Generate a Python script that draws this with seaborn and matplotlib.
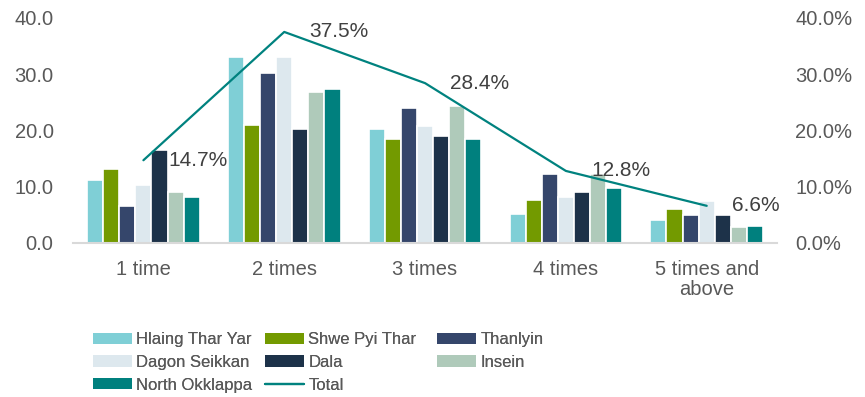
import numpy as np
import pandas as pd
import matplotlib
matplotlib.use("Agg")
import matplotlib.pyplot as plt
import seaborn as sns
from matplotlib.patches import Patch
from matplotlib.lines import Line2D

categories = ["1 time", "2 times", "3 times", "4 times", "5 times and\nabove"]
townships = ["Hlaing Thar Yar", "Shwe Pyi Thar", "Thanlyin", "Dagon Seikkan",
             "Dala", "Insein", "North Okklappa"]

hlaing_thar_yar = [11.2, 33.1, 20.2, 5.2, 4.0]
shwe_pyi_thar = [13.2, 21.0, 18.5, 7.7, 6.1]
thanlyin = [6.5, 30.2, 24.0, 12.3, 4.9]
dagon_seikkan = [10.3, 33.1, 20.7, 8.2, 7.4]
dala = [16.5, 20.2, 19.0, 9.0, 4.9]
insein = [9.0, 26.9, 24.4, 12.3, 2.8]
north_okklappa = [8.2, 27.3, 18.5, 9.8, 3.1]
total = [14.7, 37.5, 28.4, 12.8, 6.6]

colors = ["#7fcfd6", "#739a00", "#35466b", "#dde8ee", "#1d3249", "#afcaba", "#00807e"]
line_color = "#00827f"
text_color = "#595959"

series = [hlaing_thar_yar, shwe_pyi_thar, thanlyin, dagon_seikkan, dala, insein, north_okklappa]
rows = []
for name, vals in zip(townships, series):
    for cat, v in zip(categories, vals):
        rows.append({"category": cat, "township": name, "value": v})
df = pd.DataFrame(rows)

sns.set_style("white")
plt.rcParams["font.family"] = ["Liberation Sans", "DejaVu Sans"]

fig = plt.figure(figsize=(8.65, 3.97), dpi=100)
ax = fig.add_axes([0.0844, 0.388, 0.814, 0.567])

sns.barplot(data=df, x="category", y="value", hue="township", order=categories,
            hue_order=townships, palette=colors, width=0.8, saturation=1,
            edgecolor="white", linewidth=1.2, ax=ax, legend=False)

ax.set_ylim(0, 40)
ax.set_yticks([0, 10, 20, 30, 40])
ax.set_yticklabels([f"{v:.1f}" for v in [0, 10, 20, 30, 40]])
ax.set_xlim(-0.5, 4.5)
ax.set_xlabel("")
ax.set_ylabel("")
for s in ["top", "right", "left"]:
    ax.spines[s].set_visible(False)
ax.spines["bottom"].set_color("#d9d9d9")
ax.spines["bottom"].set_linewidth(1.5)
ax.tick_params(axis="x", length=0, labelsize=14.5, colors=text_color, pad=12)
ax.tick_params(axis="y", length=0, labelsize=14.5, colors=text_color, pad=14)
for lbl in ax.get_xticklabels():
    lbl.set_linespacing(1.1)

ax2 = ax.twinx()
xpos = np.arange(len(categories))
sns.lineplot(x=xpos, y=total, ax=ax2, color=line_color, linewidth=1.6)
ax2.set_ylim(0, 40)
ax2.set_yticks([0, 10, 20, 30, 40])
ax2.set_yticklabels([f"{v:.1f}%" for v in [0, 10, 20, 30, 40]])
ax2.set_xlim(-0.5, 4.5)
for s in ["top", "right", "left", "bottom"]:
    ax2.spines[s].set_visible(False)
ax2.tick_params(axis="y", length=0, labelsize=14.5, colors=text_color, pad=13)
for x, v in zip(xpos, total):
    ax2.annotate(f"{v:.1f}%", (x, v), xytext=(18, 0), textcoords="offset points",
                 ha="left", va="center", fontsize=15, color="#404040")

handles = [Patch(facecolor=c, edgecolor="none") for c in colors]
handles.append(Line2D([0], [0], color=line_color, linewidth=1.6))
labels = townships + ["Total"]
columns = [[0, 3, 6], [1, 4, 7], [2, 5]]
col_x = [93, 265, 437]
for idx, cx in zip(columns, col_x):
    leg = fig.legend([handles[i] for i in idx], [labels[i] for i in idx],
                     loc="upper left", bbox_to_anchor=(cx / 865, 1 - 332 / 397),
                     ncol=1, frameon=False, prop={"size": 12},
                     labelcolor=text_color, handlelength=2.35, handleheight=0.66,
                     handletextpad=0.25, labelspacing=0.47,
                     borderaxespad=0, borderpad=0)
    fig.add_artist(leg)

fig.savefig("out.png", dpi=100)
